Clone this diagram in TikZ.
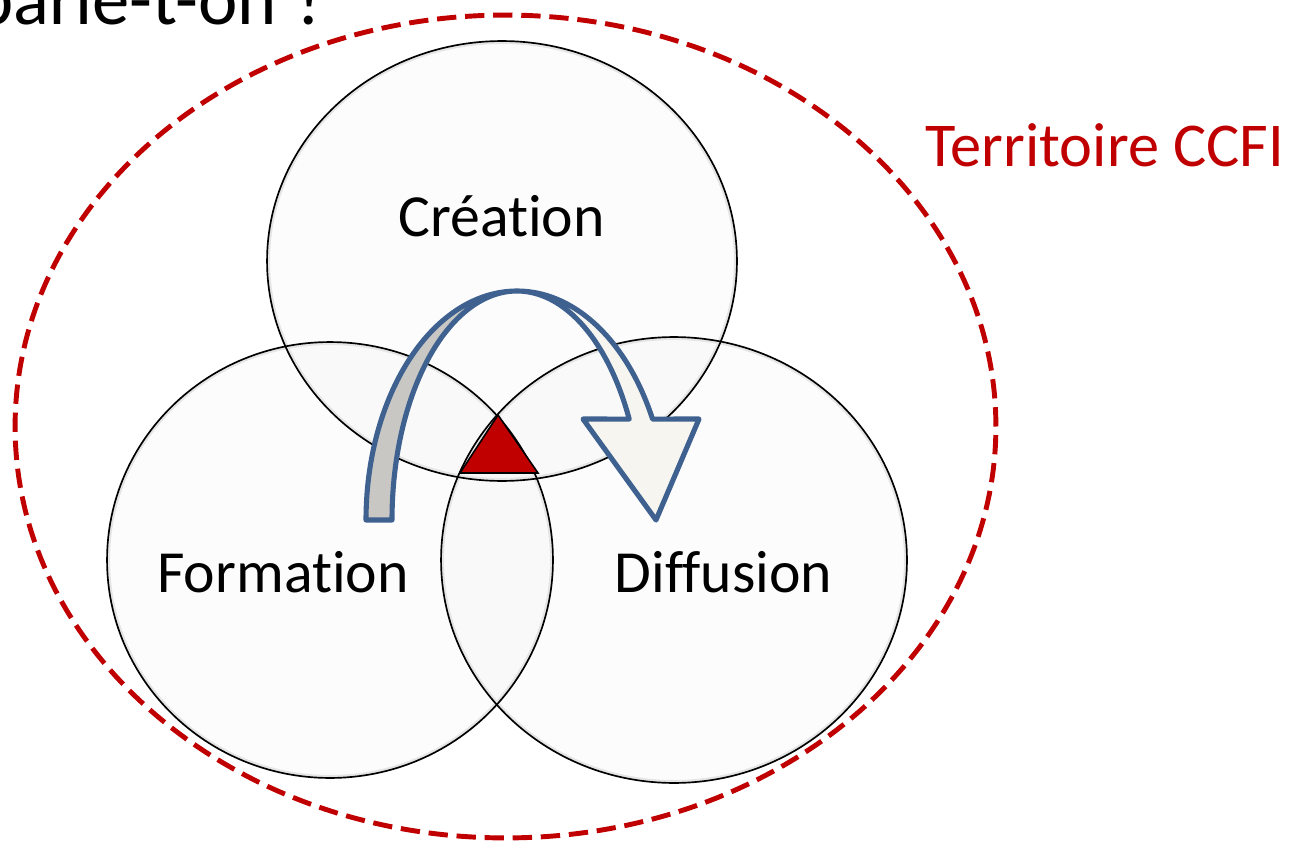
\documentclass[tikz,border=0pt]{standalone}
\usepackage{fontspec}
\setmainfont{Carlito}[RawFeature={-liga;-clig;-dlig}]
\definecolor{ccred}{HTML}{C00000}
\definecolor{arrblue}{HTML}{3E6190}
\definecolor{arrgray}{HTML}{C8C7C3}
\definecolor{arrlight}{HTML}{F6F5F0}
\begin{document}
\begin{tikzpicture}[x=0.02cm,y=-0.02cm,
  vennfill/.style={fill=black, fill opacity=0.012},
  vennglow/.style={draw=black!10, line width=3.4pt},
  vennline/.style={draw=black, line width=0.95pt},
  label/.style={font=\fontsize{34}{40}\selectfont, inner sep=0pt, anchor=base},
  territory/.style={draw=ccred, line width=2.8pt, dash pattern=on 11pt off 5pt},
  arrowline/.style={draw=arrblue, line width=2.9pt, line join=round}]
\useasboundingbox (0,0) rectangle (1293,841);
\clip (0,0) rectangle (1293,841);
% title (cut off at the top edge, as in the reference)
\node[font=\fontsize{42.5}{50}\selectfont, inner sep=0pt, anchor=base west] (title) at (-26,25) {parle-t-on ?};
% territory
\draw[territory] (505.5,426.5) ellipse [x radius=9.81cm, y radius=8.23cm];
\node[font=\fontsize{35.5}{42}\selectfont, text=ccred, inner sep=0pt, anchor=base] (terr) at (1105,167) {Territoire CCFI};
% circles fills
\fill[vennfill] (502,261) ellipse [x radius=4.70cm, y radius=4.40cm];
\fill[vennfill] (330,560) ellipse [x radius=4.46cm, y radius=4.36cm];
\fill[vennfill] (674,560) ellipse [x radius=4.66cm, y radius=4.46cm];
% glow
\begin{scope}
\clip (502,261) ellipse [x radius=4.70cm, y radius=4.40cm];
\draw[vennglow] (502,261) ellipse [x radius=4.70cm, y radius=4.40cm];
\end{scope}
\begin{scope}
\clip (330,560) ellipse [x radius=4.46cm, y radius=4.36cm];
\draw[vennglow] (330,560) ellipse [x radius=4.46cm, y radius=4.36cm];
\end{scope}
\begin{scope}
\clip (674,560) ellipse [x radius=4.66cm, y radius=4.46cm];
\draw[vennglow] (674,560) ellipse [x radius=4.66cm, y radius=4.46cm];
\end{scope}
\draw[vennline] (502,261) ellipse [x radius=4.70cm, y radius=4.40cm];
\draw[vennline] (330,560) ellipse [x radius=4.46cm, y radius=4.36cm];
\draw[vennline] (674,560) ellipse [x radius=4.66cm, y radius=4.46cm];
% labels
\node[label] (crea) at (501.5,236) {Création};
\node[label] (form) at (283,592) {Formation};
\node[label] (diff) at (723.5,592) {Diffusion};
% triangle
\draw[fill=ccred, draw=black, line width=0.9pt, line join=miter] (460,473) -- (538,473) -- (498,415) -- cycle;
% curved arrow
\fill[arrgray] plot[domain=180:90, samples=60] ({517+151*cos(\x)},{520-229*sin(\x)})
  -- plot[domain=90:180, samples=60] ({517+125*cos(\x)},{520-229*sin(\x)}) -- cycle;
\fill[arrlight] plot[domain=90:26.15, samples=60] ({517+151*cos(\x)},{520-229*sin(\x)})
  -- (699,419) -- (656,520) -- (583,419)
  -- plot[domain=26.15:90, samples=60] ({517+125*cos(\x)},{520-229*sin(\x)}) -- cycle;
\draw[arrowline] plot[domain=180:26.15, samples=120] ({517+151*cos(\x)},{520-229*sin(\x)})
  -- (699,419) -- (656,520) -- (583,419)
  -- plot[domain=26.15:180, samples=120] ({517+125*cos(\x)},{520-229*sin(\x)}) -- cycle;
\end{tikzpicture}
\end{document}
